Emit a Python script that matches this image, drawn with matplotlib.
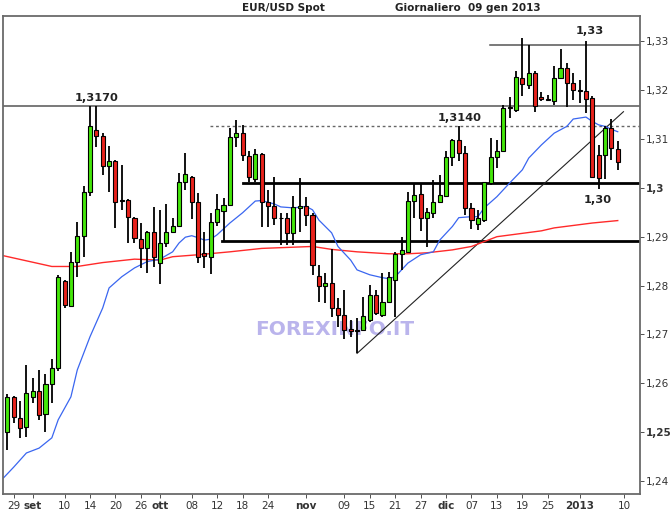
import matplotlib
matplotlib.use("Agg")
import matplotlib.pyplot as plt
import numpy as np

# ---------------- data ----------------
opens = [1.2501, 1.2571, 1.2528, 1.2510, 1.2571, 1.2584, 1.2537, 1.2598, 1.2631, 1.2809,
         1.2758, 1.2849, 1.2902, 1.2992, 1.3119, 1.3107, 1.3045, 1.3056, 1.2975, 1.2975,
         1.2938, 1.2895, 1.2876, 1.2910, 1.2846, 1.2887, 1.2910, 1.2922, 1.3012, 1.3023,
         1.2972, 1.2867, 1.2859, 1.2931, 1.2953, 1.2965, 1.3104, 1.3112, 1.3066, 1.3018,
         1.3070, 1.2972, 1.2962, 1.2939, 1.2938, 1.2907, 1.2958, 1.2962, 1.2945, 1.2820,
         1.2799, 1.2805, 1.2753, 1.2740, 1.2710, 1.2709, 1.2709, 1.2730, 1.2781, 1.2740,
         1.2767, 1.2811, 1.2865, 1.2869, 1.2973, 1.2987, 1.2938, 1.2948, 1.2972, 1.2984,
         1.3063, 1.3098, 1.3071, 1.2958, 1.2926, 1.2934, 1.3010, 1.3064, 1.3076, 1.3163,
         1.3160, 1.3226, 1.3211, 1.3236, 1.3187, 1.3182, 1.3178, 1.3226, 1.3245, 1.3215,
         1.3201, 1.3198, 1.3184, 1.3068, 1.3068, 1.3122, 1.3080]
highs = [1.2578, 1.2574, 1.2564, 1.2637, 1.2611, 1.2627, 1.2618, 1.2650, 1.2821, 1.2811,
         1.2869, 1.2931, 1.3003, 1.3168, 1.3168, 1.3113, 1.3085, 1.3057, 1.3047, 1.2977,
         1.2940, 1.2928, 1.2911, 1.2960, 1.2955, 1.2967, 1.2938, 1.3031, 1.3071, 1.3025,
         1.2990, 1.2910, 1.2949, 1.2988, 1.2979, 1.3122, 1.3138, 1.3128, 1.3076, 1.3079,
         1.3071, 1.2996, 1.3022, 1.2948, 1.2948, 1.2984, 1.3020, 1.2982, 1.2948, 1.2842,
         1.2825, 1.2874, 1.2774, 1.2790, 1.2730, 1.2734, 1.2777, 1.2801, 1.2791, 1.2825,
         1.2828, 1.2869, 1.2899, 1.2992, 1.3010, 1.3010, 1.2958, 1.3016, 1.3027, 1.3076,
         1.3100, 1.3127, 1.3085, 1.2970, 1.2955, 1.3013, 1.3102, 1.3098, 1.3170, 1.3187,
         1.3239, 1.3307, 1.3293, 1.3239, 1.3197, 1.3191, 1.3249, 1.3284, 1.3256, 1.3235,
         1.3221, 1.3300, 1.3189, 1.3088, 1.3126, 1.3141, 1.3095]
lows = [1.2463, 1.2518, 1.2487, 1.2490, 1.2560, 1.2525, 1.2501, 1.2559, 1.2624, 1.2753,
        1.2757, 1.2818, 1.2859, 1.2984, 1.3083, 1.3027, 1.2992, 1.2917, 1.2955, 1.2888,
        1.2887, 1.2835, 1.2826, 1.2838, 1.2803, 1.2878, 1.2907, 1.2920, 1.2996, 1.2936,
        1.2847, 1.2835, 1.2824, 1.2921, 1.2891, 1.2963, 1.3083, 1.3054, 1.3011, 1.3011,
        1.2919, 1.2919, 1.2924, 1.2883, 1.2883, 1.2883, 1.2910, 1.2922, 1.2822, 1.2767,
        1.2764, 1.2736, 1.2716, 1.2690, 1.2695, 1.2661, 1.2707, 1.2726, 1.2740, 1.2736,
        1.2764, 1.2736, 1.2832, 1.2867, 1.2938, 1.2912, 1.2878, 1.2938, 1.2969, 1.2982,
        1.3044, 1.3056, 1.2945, 1.2915, 1.2914, 1.2931, 1.3006, 1.3040, 1.3076, 1.3143,
        1.3156, 1.3189, 1.3202, 1.3156, 1.3177, 1.3177, 1.3170, 1.3224, 1.3165, 1.3180,
        1.3174, 1.3154, 1.3020, 1.2997, 1.3018, 1.3057, 1.3037]
closes = [1.2571, 1.2530, 1.2508, 1.2580, 1.2584, 1.2535, 1.2598, 1.2631, 1.2817, 1.2760,
          1.2849, 1.2902, 1.2992, 1.3127, 1.3107, 1.3045, 1.3056, 1.2972, 1.2973, 1.2940,
          1.2897, 1.2876, 1.2910, 1.2858, 1.2887, 1.2910, 1.2922, 1.3012, 1.3029, 1.2972,
          1.2859, 1.2861, 1.2931, 1.2956, 1.2965, 1.3104, 1.3112, 1.3068, 1.3022, 1.3070,
          1.2972, 1.2963, 1.2938, 1.2938, 1.2907, 1.2960, 1.2963, 1.2945, 1.2842, 1.2799,
          1.2806, 1.2753, 1.2740, 1.2709, 1.2706, 1.2707, 1.2738, 1.2781, 1.2743, 1.2767,
          1.2818, 1.2865, 1.2873, 1.2974, 1.2986, 1.2938, 1.2950, 1.2972, 1.2986, 1.3063,
          1.3098, 1.3071, 1.2958, 1.2934, 1.2938, 1.3013, 1.3064, 1.3076, 1.3163, 1.3165,
          1.3227, 1.3212, 1.3236, 1.3167, 1.3182, 1.3180, 1.3226, 1.3245, 1.3215, 1.3201,
          1.3198, 1.3182, 1.3023, 1.3021, 1.3122, 1.3081, 1.3053]

# short moving average (blue), read as (candle index, value)
ma_short_idx = [-0.6, 1, 3, 5, 7, 8, 10, 11, 13, 15, 16, 18, 20, 22, 24, 26, 27, 28, 29, 30,
                31, 32, 33, 35, 37, 38, 39, 40, 42, 43, 45, 47, 48, 49, 51, 52, 54, 55, 57,
                59, 60, 61, 62, 63, 65, 67, 68, 70, 71, 73, 74, 75, 77, 79, 81, 82, 84, 86,
                88, 89, 91, 92, 93, 94, 95, 96]
ma_short_val = [1.2406, 1.2428, 1.2457, 1.2467, 1.2488, 1.2525, 1.2572, 1.2627, 1.2695, 1.2754,
                1.2795, 1.2818, 1.2836, 1.2849, 1.2854, 1.2869, 1.2887, 1.2899, 1.2902, 1.2898,
                1.2893, 1.2895, 1.2904, 1.2928, 1.2949, 1.2961, 1.2973, 1.2974, 1.2967, 1.2961,
                1.2959, 1.2962, 1.2955, 1.2934, 1.2908, 1.2880, 1.2852, 1.2832, 1.2822,
                1.2816, 1.2814, 1.2818, 1.2832, 1.2846, 1.2863, 1.2869, 1.2893, 1.2921, 1.2939,
                1.2941, 1.2941, 1.2959, 1.2982, 1.3010, 1.3037, 1.3061, 1.3088, 1.3112,
                1.3126, 1.3141, 1.3145, 1.3136, 1.3129, 1.3126, 1.3120, 1.3115]

# long moving average (red)
ma_long_idx = [-0.6, 7, 11, 15, 20, 24, 26, 30, 35, 40, 44, 48, 51, 55, 60, 63, 66, 70, 73,
               77, 84, 86, 92, 96]
ma_long_val = [1.2861, 1.2839, 1.2839, 1.2847, 1.2854, 1.2852, 1.2859, 1.2863, 1.2869, 1.2876,
               1.2878, 1.2880, 1.2874, 1.2869, 1.2865, 1.2865, 1.2867, 1.2873, 1.2880,
               1.2900, 1.2912, 1.2918, 1.2928, 1.2933]

# x-axis labels: (candle index, text, bold)
xlabel_idx = [1, 4, 9, 13, 17, 21, 24, 29, 33, 37, 41, 47, 53, 57, 61, 65, 69, 73, 77, 81, 85, 90, 97]
xlabel_txt = ["29", "set", "10", "14", "20", "26", "ott", "08", "12", "18", "24", "nov",
              "09", "15", "21", "27", "dic", "07", "13", "19", "25", "2013", "10"]
xlabel_bold = ["set", "ott", "nov", "dic", "2013"]

yticks = [1.24, 1.25, 1.26, 1.27, 1.28, 1.29, 1.30, 1.31, 1.32, 1.33]
ytick_txt = ["1,24", "1,25", "1,26", "1,27", "1,28", "1,29", "1,3", "1,31", "1,32", "1,33"]
ytick_bold = ["1,25", "1,3"]

# analysis levels
lvl_1317 = 1.3168
lvl_133 = 1.3293
lvl_1314 = 1.3127
lvl_130 = 1.3010
lvl_1289 = 1.2891
trend_start = (55, 1.2661)
trend_end = (96.9, 1.3156)

# ---------------- drawing ----------------
W, H = 672, 513
fig = plt.figure(figsize=(W / 100, H / 100), dpi=100)
ax = fig.add_axes([3 / W, (H - 494) / H, (640 - 3) / W, (494 - 16) / H])

x = np.arange(len(opens))
o = np.array(opens); h = np.array(highs); l = np.array(lows); c = np.array(closes)
up = c >= o
green = "#44e60a"
red = "#e8221c"

# watermark (behind marks)
ax.text(51.5, 1.2709, "FOREXINFO.IT", fontsize=14.5, fontweight="bold", color="#bab4ec",
        ha="center", va="center", zorder=0.5)

# moving averages
ax.plot(ma_long_idx, ma_long_val, color="#ff2a2a", lw=1.0, zorder=2)
ax.plot(ma_short_idx, ma_short_val, color="#3a66f0", lw=0.9, zorder=2)

# levels
ax.axhline(lvl_1317, color="#555555", lw=1.1, zorder=1)
ax.plot([75.9, 99.5], [lvl_133, lvl_133], color="#555555", lw=1.1, zorder=1)
ax.plot([31.9, 99.5], [lvl_1314, lvl_1314], color="#666666", lw=1.0, ls=(0, (2, 2)), zorder=1)
ax.plot([37.0, 99.5], [lvl_130, lvl_130], color="black", lw=2.0, zorder=1)
ax.plot([33.8, 99.5], [lvl_1289, lvl_1289], color="black", lw=2.0, zorder=1)
ax.plot([trend_start[0], trend_end[0]], [trend_start[1], trend_end[1]], color="#222222", lw=0.8, zorder=1)

# candles
ax.vlines(x, l, h, color="black", lw=1.3, zorder=3)
body_bottom = np.minimum(o, c)
body_h = np.maximum(np.abs(c - o), 0.00012)
ax.bar(x, body_h, bottom=body_bottom, width=0.64,
       color=np.where(up, green, red), edgecolor="black", linewidth=0.8, zorder=4)

# annotations
ann = dict(fontsize=8.2, fontweight="bold", color="#222222", ha="center", va="center", zorder=6)
ax.text(14.1, 1.3184, "1,3170", **ann)
ax.text(71.2, 1.3143, "1,3140", **ann)
ax.text(91.6, 1.3322, "1,33", **ann)
ax.text(92.9, 1.2975, "1,30", **ann)

ax.set_xlim(-0.68, 99.5)
ax.set_ylim(1.2373, 1.3352)

for s in ax.spines.values():
    s.set_color("#6a6a6a")
    s.set_linewidth(1.3)

ax.yaxis.tick_right()
ax.set_yticks(yticks)
ax.set_yticklabels(ytick_txt)
ax.tick_params(axis="y", length=3, width=0.6, colors="#333333", labelsize=7.5, pad=1)
for lab in ax.get_yticklabels():
    if lab.get_text() in ytick_bold:
        lab.set_fontweight("bold")

ax.set_xticks(xlabel_idx)
ax.set_xticklabels(xlabel_txt)
ax.tick_params(axis="x", length=3, width=0.6, colors="#333333", labelsize=7.5, pad=2)
for lab in ax.get_xticklabels():
    if lab.get_text() in xlabel_bold:
        lab.set_fontweight("bold")

fig.text(283 / W, 1 - 8 / H, "EUR/USD Spot", fontsize=7.5, fontweight="bold",
         ha="center", va="center", color="#222222")
fig.text(468 / W, 1 - 8 / H, "Giornaliero  09 gen 2013", fontsize=7.5, fontweight="bold",
         ha="center", va="center", color="#222222")

fig.savefig("out.png", dpi=100, facecolor="white")
